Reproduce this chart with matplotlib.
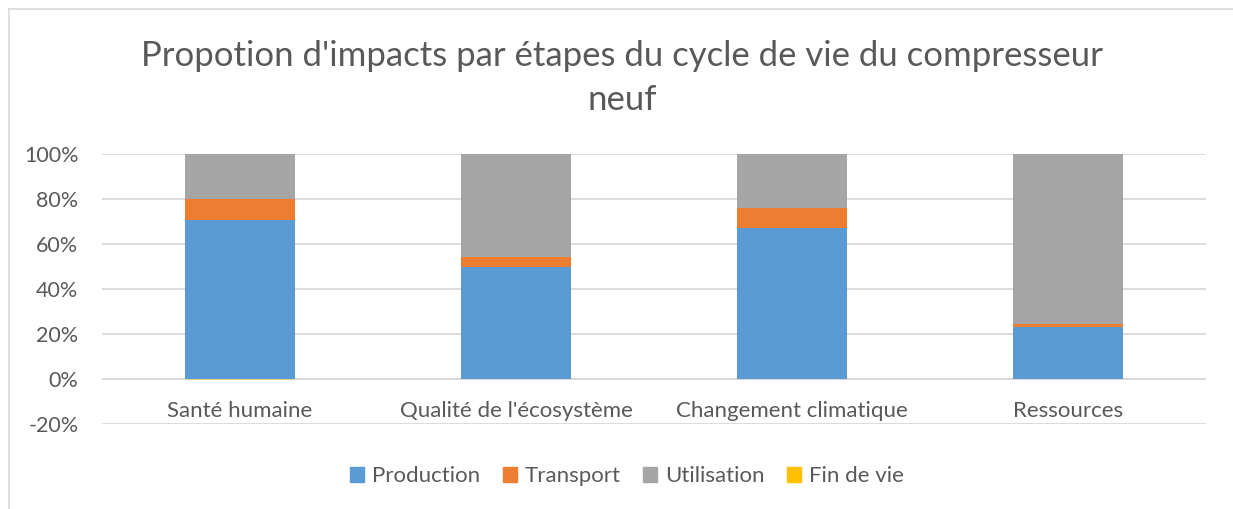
import matplotlib
matplotlib.use("Agg")
import matplotlib.pyplot as plt
from matplotlib.ticker import FuncFormatter
import numpy as np

categories = ["Santé humaine", "Qualité de l'écosystème", "Changement climatique", "Ressources"]
production = [70.6, 49.8, 67.3, 23.0]
transport = [9.2, 4.4, 8.8, 1.3]
fin_de_vie = [-0.4, 0.0, 0.0, 0.0]
utilisation = [100 - p - t for p, t in zip(production, transport)]
series_names = ["Production", "Transport", "Utilisation", "Fin de vie"]
colors = ["#5B9BD5", "#ED7D31", "#A5A5A5", "#FFC000"]
y_ticks = [-20, 0, 20, 40, 60, 80, 100]
title = "Propotion d'impacts par étapes du cycle de vie du compresseur\nneuf"

plt.rcParams['font.family'] = ['Lato', 'DejaVu Sans']
fig = plt.figure(figsize=(12.33, 5.09), dpi=100)
ax = fig.add_axes([102/1233, 1 - 424/509, (1206-102)/1233, (424-154)/509])

x = np.arange(len(categories))
w = 0.4
ax.bar(x, production, w, color=colors[0], label=series_names[0], zorder=3)
ax.bar(x, transport, w, bottom=production, color=colors[1], label=series_names[1], zorder=3)
bot2 = [p + t for p, t in zip(production, transport)]
ax.bar(x, utilisation, w, bottom=bot2, color=colors[2], label=series_names[2], zorder=3)
ax.bar(x, fin_de_vie, w, color=colors[3], label=series_names[3], zorder=3, alpha=0.35)

ax.set_ylim(-20, 100)
ax.set_xlim(-0.5, len(categories) - 0.5)
ax.set_yticks(y_ticks)
ax.yaxis.set_major_formatter(FuncFormatter(lambda v, p: f"{int(v)}%"))
ax.grid(axis='y', color='#D9D9D9', linewidth=1.3, zorder=0)
for s in ax.spines.values():
    s.set_visible(False)
ax.tick_params(axis='both', length=0, labelsize=15.5, colors='#595959')
ax.tick_params(axis='y', pad=17)
ax.set_xticks([])
for xi, c in zip(x, categories):
    ax.text(xi, -14.2, c, ha='center', va='center', fontsize=16, color='#595959')
ax.axhline(0, color='#D9D9D9', linewidth=1.3, zorder=2)

fig.text(622/1233, 1 - 78/509, title, ha='center', va='center', fontsize=25,
         color='#595959', linespacing=1.45)

handles = [plt.Rectangle((0, 0), 1, 1, color=c) for c in colors]
fig.legend(handles, series_names, loc='center', bbox_to_anchor=(627/1233, 1 - 476/509),
           ncol=4, frameon=False, fontsize=16, handlelength=0.65, handleheight=0.65,
           handletextpad=0.35, columnspacing=1.0, labelcolor='#595959')

# outer border
fig.add_artist(plt.Line2D([9/1233, 9/1233], [0, 1 - 9/509], color='#D9D9D9', lw=1.2,
                          transform=fig.transFigure))
fig.add_artist(plt.Line2D([9/1233, 1], [1 - 9/509, 1 - 9/509], color='#D9D9D9', lw=1.2,
                          transform=fig.transFigure))

fig.savefig("out.png", dpi=100, facecolor='white')
